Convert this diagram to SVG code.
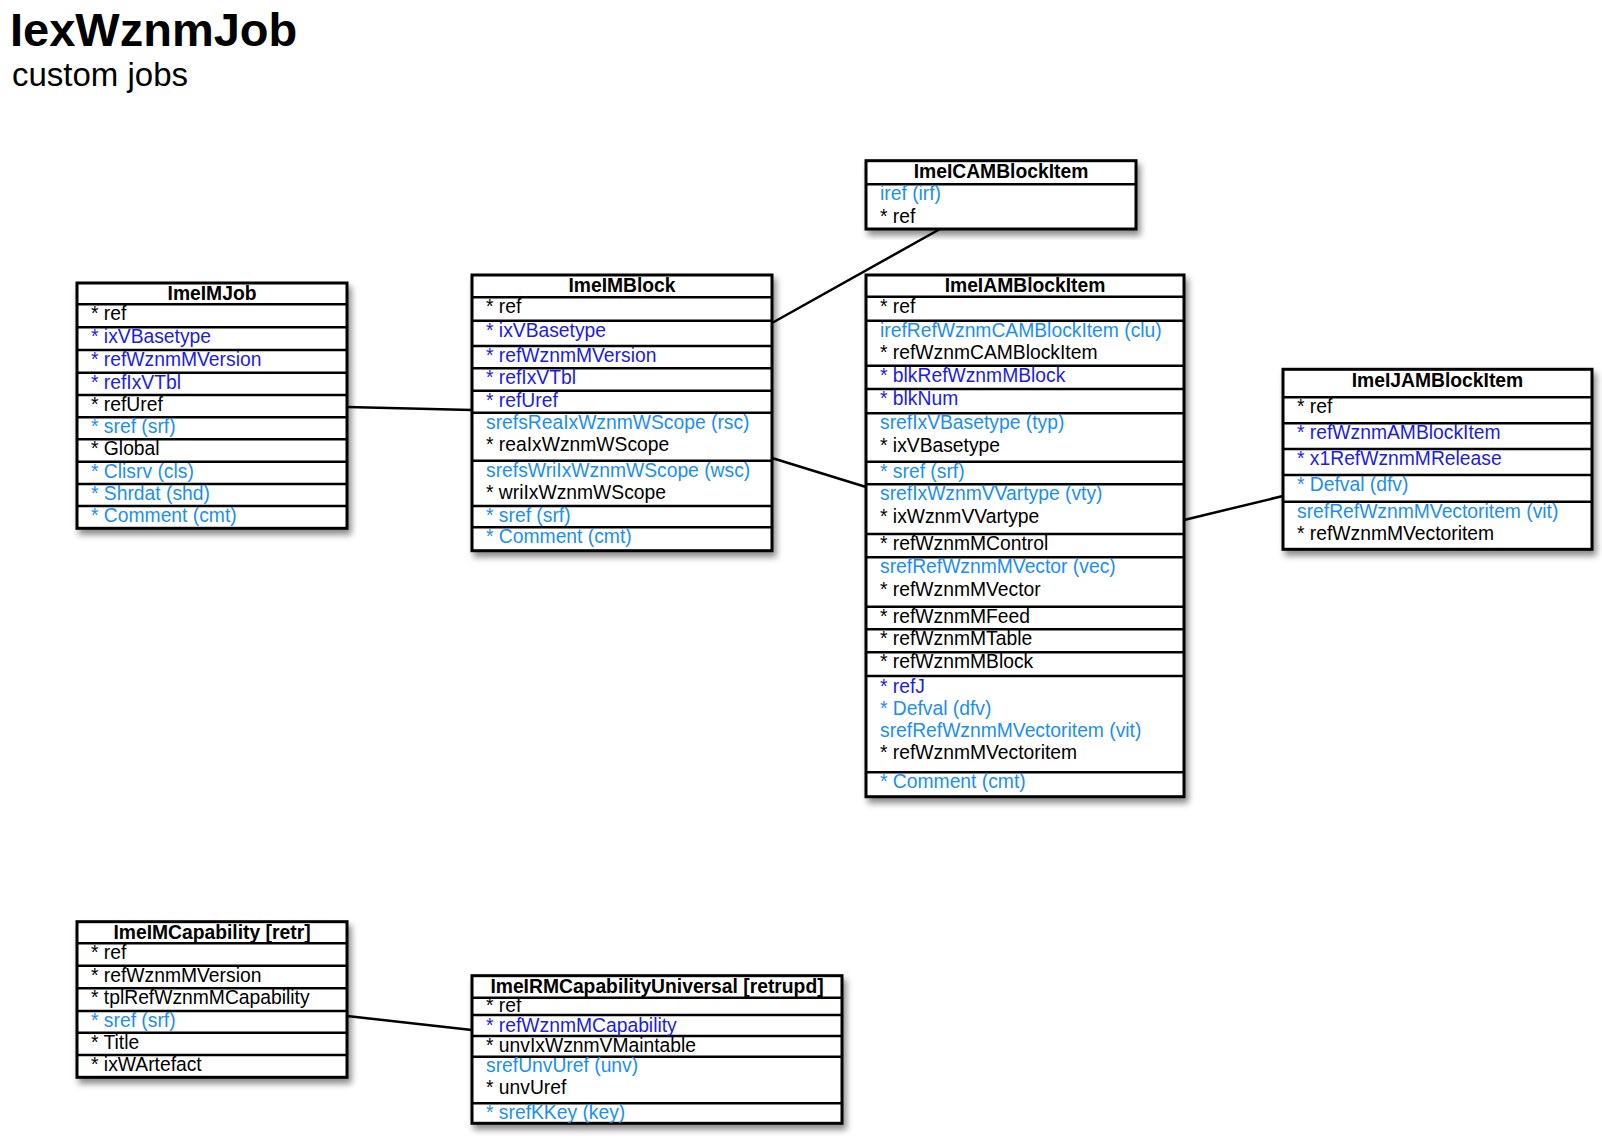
<svg xmlns="http://www.w3.org/2000/svg" width="1602" height="1138" viewBox="0 0 1602 1138">
<defs>
<filter id="sh" x="-10%" y="-10%" width="125%" height="125%">
<feDropShadow dx="3" dy="5" stdDeviation="3" flood-color="#000" flood-opacity="0.45"/>
</filter>
<style>
.box{fill:#fff;stroke:#000;stroke-width:3}
.sep{stroke:#000;stroke-width:2.5}
.h{font-family:"Liberation Sans",Arial,sans-serif;font-weight:bold;font-size:19.3px;text-anchor:middle;fill:#000}
.t{font-family:"Liberation Sans",Arial,sans-serif;font-size:19.3px}
.k{fill:#000}
.d{fill:#1c1ce6}
.l{fill:#1b8ff0}
.c{stroke:#000;stroke-width:2.5;fill:none}
</style>
</defs>
<rect width="1602" height="1138" fill="#fff"/>
<text x="10" y="46" font-family="Liberation Sans,Arial,sans-serif" font-weight="bold" font-size="47">IexWznmJob</text>
<text x="12" y="86" font-family="Liberation Sans,Arial,sans-serif" font-size="33">custom jobs</text>

<g id="connectors">
<line class="c" x1="347" y1="407" x2="472" y2="410"/>
<line class="c" x1="772" y1="323" x2="940" y2="229"/>
<line class="c" x1="772" y1="458" x2="866" y2="487"/>
<line class="c" x1="1184" y1="520" x2="1283" y2="496"/>
<line class="c" x1="347" y1="1016" x2="472" y2="1030"/>
</g>

<g id="ImeIMJob">
<rect class="box" filter="url(#sh)" x="77" y="283" width="270" height="245.3"/>
<g class="sep">
<line x1="77" x2="347" y1="304.3" y2="304.3"/>
<line x1="77" x2="347" y1="327.3" y2="327.3"/>
<line x1="77" x2="347" y1="350" y2="350"/>
<line x1="77" x2="347" y1="372.7" y2="372.7"/>
<line x1="77" x2="347" y1="395" y2="395"/>
<line x1="77" x2="347" y1="417.3" y2="417.3"/>
<line x1="77" x2="347" y1="439.3" y2="439.3"/>
<line x1="77" x2="347" y1="461.7" y2="461.7"/>
<line x1="77" x2="347" y1="484" y2="484"/>
<line x1="77" x2="347" y1="506" y2="506"/>
</g>
<text class="h" x="212" y="300">ImeIMJob</text>
<text class="t k" x="91" y="320.3">* ref</text>
<text class="t d" x="91" y="343.3">* ixVBasetype</text>
<text class="t d" x="91" y="366">* refWznmMVersion</text>
<text class="t d" x="91" y="388.7">* refIxVTbl</text>
<text class="t k" x="91" y="411">* refUref</text>
<text class="t l" x="91" y="433.3">* sref (srf)</text>
<text class="t k" x="91" y="455.3">* Global</text>
<text class="t l" x="91" y="477.7">* Clisrv (cls)</text>
<text class="t l" x="91" y="500">* Shrdat (shd)</text>
<text class="t l" x="91" y="522">* Comment (cmt)</text>
</g>

<g id="ImeIMBlock">
<rect class="box" filter="url(#sh)" x="472" y="275" width="300" height="275.7"/>
<g class="sep">
<line x1="472" x2="772" y1="297.3" y2="297.3"/>
<line x1="472" x2="772" y1="320.7" y2="320.7"/>
<line x1="472" x2="772" y1="346" y2="346"/>
<line x1="472" x2="772" y1="368.3" y2="368.3"/>
<line x1="472" x2="772" y1="390.7" y2="390.7"/>
<line x1="472" x2="772" y1="412.7" y2="412.7"/>
<line x1="472" x2="772" y1="460.7" y2="460.7"/>
<line x1="472" x2="772" y1="506" y2="506"/>
<line x1="472" x2="772" y1="527.3" y2="527.3"/>
</g>
<text class="h" x="622" y="292">ImeIMBlock</text>
<text class="t k" x="486" y="313.3">* ref</text>
<text class="t d" x="486" y="336.7">* ixVBasetype</text>
<text class="t d" x="486" y="362">* refWznmMVersion</text>
<text class="t d" x="486" y="384.3">* refIxVTbl</text>
<text class="t d" x="486" y="406.7">* refUref</text>
<text class="t l" x="486" y="428.7">srefsReaIxWznmWScope (rsc)</text>
<text class="t k" x="486" y="451">* reaIxWznmWScope</text>
<text class="t l" x="486" y="476.7">srefsWriIxWznmWScope (wsc)</text>
<text class="t k" x="486" y="499">* wriIxWznmWScope</text>
<text class="t l" x="486" y="522">* sref (srf)</text>
<text class="t l" x="486" y="543.3">* Comment (cmt)</text>
</g>

<g id="ImeICAMBlockItem">
<rect class="box" filter="url(#sh)" x="866" y="160.7" width="270" height="68.3"/>
<line class="sep" x1="866" x2="1136" y1="184.3" y2="184.3"/>
<text class="h" x="1001" y="177.5">ImeICAMBlockItem</text>
<text class="t l" x="880" y="200.3">iref (irf)</text>
<text class="t k" x="880" y="222.6">* ref</text>
</g>

<g id="ImeIAMBlockItem">
<rect class="box" filter="url(#sh)" x="866" y="275" width="318" height="521.7"/>
<g class="sep">
<line x1="866" x2="1184" y1="296.7" y2="296.7"/>
<line x1="866" x2="1184" y1="320.7" y2="320.7"/>
<line x1="866" x2="1184" y1="365.7" y2="365.7"/>
<line x1="866" x2="1184" y1="389" y2="389"/>
<line x1="866" x2="1184" y1="413.3" y2="413.3"/>
<line x1="866" x2="1184" y1="461.7" y2="461.7"/>
<line x1="866" x2="1184" y1="484.3" y2="484.3"/>
<line x1="866" x2="1184" y1="534" y2="534"/>
<line x1="866" x2="1184" y1="557.3" y2="557.3"/>
<line x1="866" x2="1184" y1="606.7" y2="606.7"/>
<line x1="866" x2="1184" y1="629.3" y2="629.3"/>
<line x1="866" x2="1184" y1="652.3" y2="652.3"/>
<line x1="866" x2="1184" y1="676" y2="676"/>
<line x1="866" x2="1184" y1="772.3" y2="772.3"/>
</g>
<text class="h" x="1025" y="292">ImeIAMBlockItem</text>
<text class="t k" x="880" y="312.7">* ref</text>
<text class="t l" x="880" y="336.7">irefRefWznmCAMBlockItem (clu)</text>
<text class="t k" x="880" y="359">* refWznmCAMBlockItem</text>
<text class="t d" x="880" y="381.7">* blkRefWznmMBlock</text>
<text class="t d" x="880" y="405">* blkNum</text>
<text class="t l" x="880" y="429.3">srefIxVBasetype (typ)</text>
<text class="t k" x="880" y="451.6">* ixVBasetype</text>
<text class="t l" x="880" y="477.7">* sref (srf)</text>
<text class="t l" x="880" y="500.3">srefIxWznmVVartype (vty)</text>
<text class="t k" x="880" y="522.6">* ixWznmVVartype</text>
<text class="t k" x="880" y="550">* refWznmMControl</text>
<text class="t l" x="880" y="573.3">srefRefWznmMVector (vec)</text>
<text class="t k" x="880" y="595.6">* refWznmMVector</text>
<text class="t k" x="880" y="622.7">* refWznmMFeed</text>
<text class="t k" x="880" y="645.3">* refWznmMTable</text>
<text class="t k" x="880" y="668.3">* refWznmMBlock</text>
<text class="t d" x="880" y="692.5">* refJ</text>
<text class="t l" x="880" y="714.8">* Defval (dfv)</text>
<text class="t l" x="880" y="737.1">srefRefWznmMVectoritem (vit)</text>
<text class="t k" x="880" y="759.4">* refWznmMVectoritem</text>
<text class="t l" x="880" y="788.3">* Comment (cmt)</text>
</g>

<g id="ImeIJAMBlockItem">
<rect class="box" filter="url(#sh)" x="1283" y="369.3" width="309" height="180"/>
<g class="sep">
<line x1="1283" x2="1592" y1="397.3" y2="397.3"/>
<line x1="1283" x2="1592" y1="423.3" y2="423.3"/>
<line x1="1283" x2="1592" y1="449" y2="449"/>
<line x1="1283" x2="1592" y1="475" y2="475"/>
<line x1="1283" x2="1592" y1="501.7" y2="501.7"/>
</g>
<text class="h" x="1437.5" y="386.5">ImeIJAMBlockItem</text>
<text class="t k" x="1297" y="413.3">* ref</text>
<text class="t d" x="1297" y="439.3">* refWznmAMBlockItem</text>
<text class="t d" x="1297" y="465">* x1RefWznmMRelease</text>
<text class="t l" x="1297" y="491">* Defval (dfv)</text>
<text class="t l" x="1297" y="517.7">srefRefWznmMVectoritem (vit)</text>
<text class="t k" x="1297" y="540">* refWznmMVectoritem</text>
</g>

<g id="ImeIMCapability">
<rect class="box" filter="url(#sh)" x="77" y="921.7" width="270" height="155.6"/>
<g class="sep">
<line x1="77" x2="347" y1="943.3" y2="943.3"/>
<line x1="77" x2="347" y1="965.7" y2="965.7"/>
<line x1="77" x2="347" y1="988.3" y2="988.3"/>
<line x1="77" x2="347" y1="1011" y2="1011"/>
<line x1="77" x2="347" y1="1032.7" y2="1032.7"/>
<line x1="77" x2="347" y1="1055" y2="1055"/>
</g>
<text class="h" x="212" y="938.7">ImeIMCapability [retr]</text>
<text class="t k" x="91" y="959.3">* ref</text>
<text class="t k" x="91" y="981.7">* refWznmMVersion</text>
<text class="t k" x="91" y="1004.3">* tplRefWznmMCapability</text>
<text class="t l" x="91" y="1027">* sref (srf)</text>
<text class="t k" x="91" y="1048.7">* Title</text>
<text class="t k" x="91" y="1071">* ixWArtefact</text>
</g>

<g id="ImeIRMCapabilityUniversal">
<rect class="box" filter="url(#sh)" x="472" y="975.7" width="370" height="147.6"/>
<g class="sep">
<line x1="472" x2="842" y1="997.7" y2="997.7"/>
<line x1="472" x2="842" y1="1015" y2="1015"/>
<line x1="472" x2="842" y1="1036" y2="1036"/>
<line x1="472" x2="842" y1="1056.7" y2="1056.7"/>
<line x1="472" x2="842" y1="1103.3" y2="1103.3"/>
</g>
<text class="h" x="657" y="992.7">ImeIRMCapabilityUniversal [retrupd]</text>
<text class="t k" x="486" y="1011.5">* ref</text>
<text class="t d" x="486" y="1032.3">* refWznmMCapability</text>
<text class="t k" x="486" y="1052">* unvIxWznmVMaintable</text>
<text class="t l" x="486" y="1072">srefUnvUref (unv)</text>
<text class="t k" x="486" y="1094">* unvUref</text>
<text class="t l" x="486" y="1118.5">* srefKKey (key)</text>
</g>
</svg>
